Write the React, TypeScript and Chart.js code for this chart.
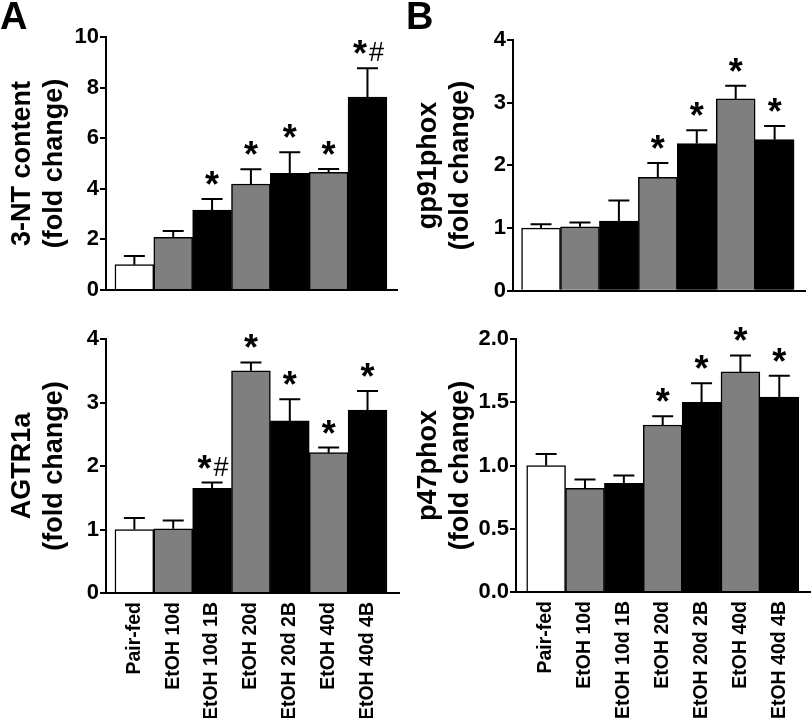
import React, { useEffect, useRef } from 'react';
import { Chart, registerables } from 'chart.js';

Chart.register(...registerables);

const FONT = '"Liberation Sans", Arial, Helvetica, sans-serif';

// ---- data ----
const categories = ['Pair-fed', 'EtOH 10d', 'EtOH 10d 1B', 'EtOH 20d', 'EtOH 20d 2B', 'EtOH 40d', 'EtOH 40d 4B'];

const ntMeans = [1.0, 2.08, 3.16, 4.19, 4.61, 4.65, 7.63];
const ntErr = [0.34, 0.25, 0.44, 0.58, 0.83, 0.13, 1.13];
const ntSig = ['', '', '*', '*', '*', '*', '*#'];
const ntTicks = { max: 10, step: 2 };

const gp91Means = [1.0, 1.02, 1.11, 1.81, 2.35, 3.06, 2.41];
const gp91Err = [0.06, 0.07, 0.33, 0.23, 0.21, 0.21, 0.22];
const gp91Sig = ['', '', '', '*', '*', '*', '*'];
const gp91Ticks = { max: 4, step: 1 };

const agtrMeans = [1.0, 1.01, 1.65, 3.5, 2.71, 2.21, 2.88];
const agtrErr = [0.18, 0.13, 0.09, 0.13, 0.34, 0.08, 0.3];
const agtrSig = ['', '', '*#', '*', '*', '*', '*'];
const agtrTicks = { max: 4, step: 1 };

const p47Means = [1.0, 0.82, 0.86, 1.32, 1.5, 1.74, 1.54];
const p47Err = [0.09, 0.07, 0.06, 0.07, 0.15, 0.13, 0.17];
const p47Sig = ['', '', '', '*', '*', '*', '*'];
const p47Ticks = { max: 2, step: 0.5 };

// ---- styles ----
const barColors = ['#ffffff', '#7f7f7f', '#000000', '#7f7f7f', '#000000', '#7f7f7f', '#000000'];

type Spec = {
  left: number; top: number; w: number; h: number;
  padTop: number; padRight: number;
  yWidth: number; xHeight: number;
  xMin: number; xMax: number;
  title: string[];
  means: number[]; errs: number[]; sig: string[];
  ticks: { max: number; step: number };
  decimals: number;
  showX: boolean;
};

const panels: Spec[] = [
  { left: 0, top: 0, w: 406, h: 305, padTop: 37, padRight: 9, yWidth: 106, xHeight: 15, xMin: -0.73, xMax: 6.76,
    title: ['3-NT content', '(fold change)'], means: ntMeans, errs: ntErr, sig: ntSig, ticks: ntTicks, decimals: 0, showX: false },
  { left: 406, top: 0, w: 406, h: 305, padTop: 40, padRight: 7, yWidth: 107, xHeight: 12, xMin: -0.72, xMax: 6.78,
    title: ['gp91phox', '(fold change)'], means: gp91Means, errs: gp91Err, sig: gp91Sig, ticks: gp91Ticks, decimals: 0, showX: false },
  { left: 0, top: 305, w: 406, h: 413, padTop: 34, padRight: 7, yWidth: 106, xHeight: 125, xMin: -0.73, xMax: 6.81,
    title: ['AGTR1a', '(fold change)'], means: agtrMeans, errs: agtrErr, sig: agtrSig, ticks: agtrTicks, decimals: 0, showX: true },
  { left: 406, top: 305, w: 406, h: 413, padTop: 34, padRight: 2, yWidth: 110, xHeight: 126, xMin: -0.775, xMax: 6.79,
    title: ['p47phox', '(fold change)'], means: p47Means, errs: p47Err, sig: p47Sig, ticks: p47Ticks, decimals: 1, showX: true },
];

function makeErrPlugin(errs: number[], sig: string[]) {
  return {
    id: 'semBars',
    afterDatasetsDraw(chart: any) {
      const meta = chart.getDatasetMeta(0);
      const yScale = chart.scales.y;
      const ctx = chart.ctx as CanvasRenderingContext2D;
      const data = chart.data.datasets[0].data as { x: number; y: number }[];
      ctx.save();
      ctx.strokeStyle = '#000';
      ctx.lineWidth = 2;
      meta.data.forEach((el: any, i: number) => {
        const p = el.getProps(['x', 'y', 'width'], true);
        const top = yScale.getPixelForValue(data[i].y + errs[i]);
        const cap = p.width * 0.27;
        ctx.beginPath();
        ctx.moveTo(p.x, p.y);
        ctx.lineTo(p.x, top);
        ctx.moveTo(p.x - cap, top);
        ctx.lineTo(p.x + cap, top);
        ctx.stroke();
        const s = sig[i];
        if (s) {
          ctx.fillStyle = '#000';
          ctx.textBaseline = 'alphabetic';
          ctx.textAlign = 'left';
          const starFont = `bold 36px ${FONT}`;
          const hashFont = `normal 27px ${FONT}`;
          ctx.font = starFont;
          const sw = ctx.measureText('*').width;
          let hw = 0;
          const gap = 2;
          if (s.includes('#')) {
            ctx.font = hashFont;
            hw = ctx.measureText('#').width + gap;
          }
          const total = sw + hw;
          const x0 = p.x - total / 2 + (hw ? 1 : 0);
          ctx.font = starFont;
          ctx.fillText('*', x0, top - 2);
          if (hw) {
            ctx.font = hashFont;
            ctx.fillText('#', x0 + sw + gap, top - 7);
          }
        }
      });
      ctx.restore();
    },
  };
}

function Panel({ spec }: { spec: Spec }) {
  const ref = useRef<HTMLCanvasElement>(null);
  useEffect(() => {
    const canvas = ref.current!;
    const chart = new Chart(canvas, {
      type: 'bar',
      data: {
        datasets: [
          {
            data: spec.means.map((v, i) => ({ x: i, y: v })),
            backgroundColor: barColors,
            borderColor: '#000',
            borderWidth: 1.5,
            barPercentage: 1,
            categoryPercentage: 1,
          },
        ],
      },
      options: {
        animation: false,
        responsive: false,
        events: [],
        layout: { padding: { top: spec.padTop, right: spec.padRight, left: 0, bottom: 0 } },
        plugins: { legend: { display: false }, tooltip: { enabled: false } },
        scales: {
          x: {
            type: 'linear',
            offset: false,
            min: spec.xMin,
            max: spec.xMax,
            grid: { display: false, drawTicks: false, offset: false },
            border: { display: true, color: '#000', width: 2 },
            ticks: {
              display: spec.showX,
              stepSize: 1,
              includeBounds: false,
              autoSkip: false,
              maxRotation: 90,
              minRotation: 90,
              padding: 9,
              color: '#000',
              font: { family: FONT, size: 19.5, weight: 'bold' },
              callback: (v: any) => {
                const n = Number(v);
                return Number.isInteger(n) && n >= 0 && n < categories.length ? categories[n] : '';
              },
            },
            afterFit: (s: any) => { s.height = spec.xHeight; },
          },
          y: {
            type: 'linear',
            min: 0,
            max: spec.ticks.max,
            grid: { drawOnChartArea: false, drawTicks: true, tickLength: 6, color: '#000', lineWidth: 2 },
            border: { display: true, color: '#000', width: 2 },
            ticks: {
              stepSize: spec.ticks.step,
              padding: 1,
              color: '#000',
              font: { family: FONT, size: 22, weight: 'bold' },
              callback: (v: any) => Number(v).toFixed(spec.decimals),
            },
            title: {
              display: true,
              text: spec.title,
              color: '#000',
              font: { family: FONT, size: 27, weight: 'bold', lineHeight: 1.18 },
              padding: { top: 7, bottom: 0 },
            },
            afterFit: (s: any) => { s.width = spec.yWidth; },
          },
        },
      },
      plugins: [makeErrPlugin(spec.errs, spec.sig)],
    } as any);
    return () => chart.destroy();
  }, [spec]);
  return (
    <canvas
      ref={ref}
      width={spec.w}
      height={spec.h}
      style={{ position: 'absolute', left: spec.left, top: spec.top, width: spec.w, height: spec.h }}
    />
  );
}

export default function App() {
  const letterStyle: React.CSSProperties = {
    position: 'absolute',
    fontFamily: FONT,
    fontWeight: 'bold',
    fontSize: 38,
    lineHeight: '38px',
    color: '#000',
  };
  return (
    <div style={{ position: 'absolute', left: 0, top: 0, width: 812, height: 718, background: '#fff', overflow: 'hidden' }}>
      {panels.map((p, i) => (
        <Panel key={i} spec={p} />
      ))}
      <div style={{ ...letterStyle, left: 0, top: -3 }}>A</div>
      <div style={{ ...letterStyle, left: 406, top: -3 }}>B</div>
    </div>
  );
}
